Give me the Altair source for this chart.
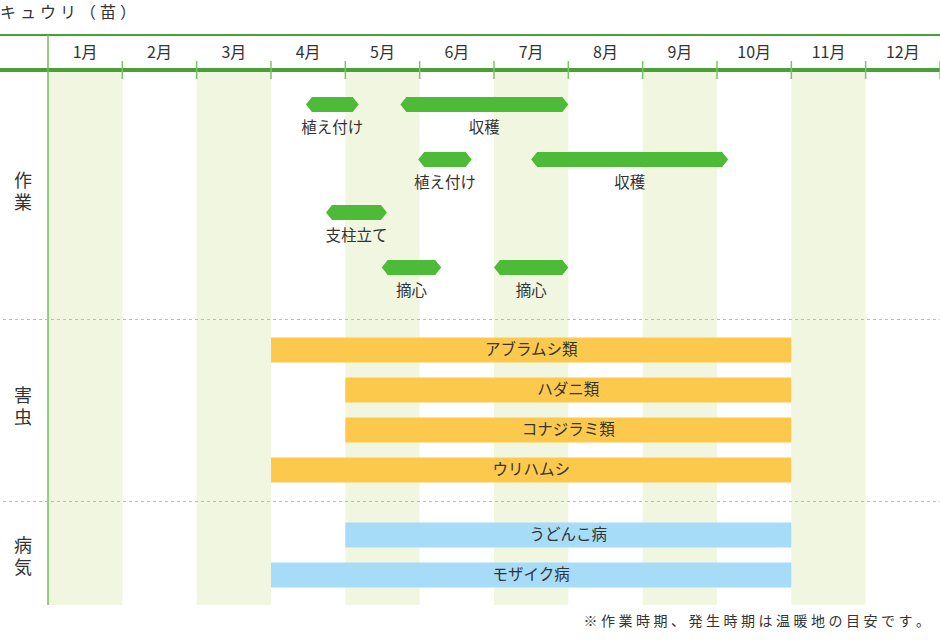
import altair as alt
import pandas as pd

# ---------------- data ----------------
MONTHS = ["1月", "2月", "3月", "4月", "5月", "6月", "7月", "8月", "9月", "10月", "11月", "12月"]
SHADED_MONTHS = [1, 3, 5, 7, 9, 11]

SECTIONS = ["作業", "害虫", "病気"]

TASK_NAMES = ["植え付け", "収穫", "植え付け", "収穫", "支柱立て", "摘心", "摘心"]
TASK_ROW = [0, 0, 1, 1, 2, 3, 3]
TASK_START = [3.47, 4.74, 4.98, 6.50, 3.74, 4.49, 6.00]
TASK_END = [4.18, 7.00, 5.70, 9.15, 4.56, 5.29, 7.00]

PEST_NAMES = ["アブラムシ類", "ハダニ類", "コナジラミ類", "ウリハムシ"]
PEST_START = [3, 4, 4, 3]
PEST_END = [10, 10, 10, 10]

DISEASE_NAMES = ["うどんこ病", "モザイク病"]
DISEASE_START = [4, 3]
DISEASE_END = [10, 10]

TITLE = "キュウリ（苗）"
NOTE = "※作業時期、発生時期は温暖地の目安です。"

# ---------------- layout / style ----------------
W, H = 940, 641
LEFT = 48
COL_W = (W - LEFT) / 12
FONT = "Noto Sans CJK JP"
TEXT = "#333333"
GREEN_LINE = "#48a036"
GREEN_LIGHT = "#7cc46a"
SHADE = "#f1f6e1"
TASK_C = "#4dbb37"
PEST_C = "#fdc94c"
DIS_C = "#a7dcf9"

TASK_Y = [104.5, 159.5, 212.5, 267.5]
PEST_Y = [350, 390, 430, 470]
DIS_Y = [535, 575]
SEC_Y = [182, 397, 547]
TASK_H = 15
LONG_H = 25
TIP = 6

xs = alt.Scale(domain=[-LEFT / COL_W, 12], range=[0, W], nice=False, zero=False)
ys = alt.Scale(domain=[0, H], range=[0, H], nice=False, zero=False)


def X(f):
    return alt.X(f, type="quantitative", scale=xs, axis=None)


def X2(f):
    return alt.X2(f)


def Y(f):
    return alt.Y(f, type="quantitative", scale=ys, axis=None)


def spaced(s, sep):
    return sep.join(list(s))


# shaded month columns
shade_df = pd.DataFrame({"m": SHADED_MONTHS})
shade_df["x0"] = shade_df["m"] - 1
shade = alt.Chart(shade_df).mark_rect(color=SHADE).encode(
    x=X("x0"), x2=X2("m"), y=alt.value(71), y2=alt.value(605)
)

# header lines
top_line = alt.Chart(pd.DataFrame({"a": [0]})).mark_rule(color=GREEN_LINE, strokeWidth=2).encode(
    x=alt.value(0), x2=alt.value(W), y=alt.value(35)
)
hdr_line = alt.Chart(pd.DataFrame({"a": [0]})).mark_rule(color=GREEN_LINE, strokeWidth=4).encode(
    x=alt.value(0), x2=alt.value(W), y=alt.value(70)
)
left_line = alt.Chart(pd.DataFrame({"x": [0]})).mark_rule(color="#6cbf58", strokeWidth=1.5).encode(
    x=X("x"), y=alt.value(35), y2=alt.value(605)
)
tick_df = pd.DataFrame({"x": list(range(1, 13))})
ticks = alt.Chart(tick_df).mark_rule(color=GREEN_LIGHT, strokeWidth=1.5).encode(
    x=X("x"), y=alt.value(61), y2=alt.value(79)
)

# month labels
month_df = pd.DataFrame({"label": MONTHS, "x": [i + 0.5 for i in range(12)]})
month_text = alt.Chart(month_df).mark_text(
    font=FONT, fontSize=16, color=TEXT, baseline="middle", align="center"
).encode(x=X("x"), y=alt.value(53), text="label:N")

# dashed separators
sep = alt.Chart(pd.DataFrame({"y": [319.5, 501.5]})).mark_rule(
    color="#9fd38d", strokeWidth=1, strokeDash=[3, 3]
).encode(x=alt.value(3), x2=alt.value(W), y=Y("y"))

# section labels (vertical, one character per line)
sec_df = pd.DataFrame({"t": [list(s) for s in SECTIONS], "y": SEC_Y})
sec_text = alt.Chart(sec_df).mark_text(
    font=FONT, fontSize=18, color=TEXT, lineHeight=22, baseline="middle", align="center"
).encode(x=alt.value(23), y=Y("y"), text="t")

# task bars
task_df = pd.DataFrame({"name": TASK_NAMES, "row": TASK_ROW, "s": TASK_START, "e": TASK_END})
task_df["yc"] = [TASK_Y[r] for r in task_df["row"]]
task_df["y0"] = task_df["yc"] - TASK_H / 2
task_df["y1"] = task_df["yc"] + TASK_H / 2
task_df["mid"] = (task_df["s"] + task_df["e"]) / 2
task_df["ly"] = task_df["yc"] + 23

task_body = alt.Chart(task_df).mark_rect(
    color=TASK_C, xOffset=TIP, x2Offset=-TIP
).encode(x=X("s"), x2=X2("e"), y=Y("y0"), y2=alt.Y2("y1"))

u = TIP / (TASK_H / 2)
LEFT_TIP = f"M0,0 L{u:.3f},-1 L{u + 0.3:.3f},-1 L{u + 0.3:.3f},1 L{u:.3f},1 Z"
RIGHT_TIP = f"M0,0 L{-u:.3f},-1 L{-u - 0.3:.3f},-1 L{-u - 0.3:.3f},1 L{-u:.3f},1 Z"

tip_l = alt.Chart(task_df).mark_point(
    shape=LEFT_TIP, size=TASK_H ** 2, filled=True, opacity=1, color=TASK_C, strokeOpacity=0
).encode(x=X("s"), y=Y("yc"))
tip_r = alt.Chart(task_df).mark_point(
    shape=RIGHT_TIP, size=TASK_H ** 2, filled=True, opacity=1, color=TASK_C, strokeOpacity=0
).encode(x=X("e"), y=Y("yc"))

task_text = alt.Chart(task_df).mark_text(
    font=FONT, fontSize=15.5, color=TEXT, baseline="middle", align="center"
).encode(x=X("mid"), y=Y("ly"), text="name:N")

# pests / diseases
def long_layers(names, starts, ends, rows_y, color):
    df = pd.DataFrame({"name": names, "s": starts, "e": ends, "yc": rows_y})
    df["y0"] = df["yc"] - LONG_H / 2
    df["y1"] = df["yc"] + LONG_H / 2
    df["mid"] = (df["s"] + df["e"]) / 2
    bars = alt.Chart(df).mark_rect(color=color).encode(
        x=X("s"), x2=X2("e"), y=Y("y0"), y2=alt.Y2("y1")
    )
    txt = alt.Chart(df).mark_text(
        font=FONT, fontSize=15.5, color=TEXT, baseline="middle", align="center"
    ).encode(x=X("mid"), y=Y("yc"), text="name:N")
    return [bars, txt]


pest_layers = long_layers(PEST_NAMES, PEST_START, PEST_END, PEST_Y, PEST_C)
dis_layers = long_layers(DISEASE_NAMES, DISEASE_START, DISEASE_END, DIS_Y, DIS_C)

# title and note
title = alt.Chart(pd.DataFrame({"t": [spaced(TITLE, "\u2005")]})).mark_text(
    font=FONT, fontSize=16, color=TEXT, align="left", baseline="middle"
).encode(x=alt.value(0), y=alt.value(13), text="t:N")

note = alt.Chart(pd.DataFrame({"t": [spaced(NOTE, "\u2005")]})).mark_text(
    font=FONT, fontSize=14, color=TEXT, align="right", baseline="middle"
).encode(x=alt.value(930), y=alt.value(622), text="t:N")

chart = alt.layer(
    shade, top_line, hdr_line, ticks, left_line, month_text, sep, sec_text,
    task_body, tip_l, tip_r, task_text,
    *pest_layers, *dis_layers, title, note,
).properties(
    width=W, height=H, padding=0, autosize=alt.AutoSizeParams(type="none")
).configure_view(stroke=None)

chart.save("out.html", embed_options={"renderer": "svg", "actions": False})
